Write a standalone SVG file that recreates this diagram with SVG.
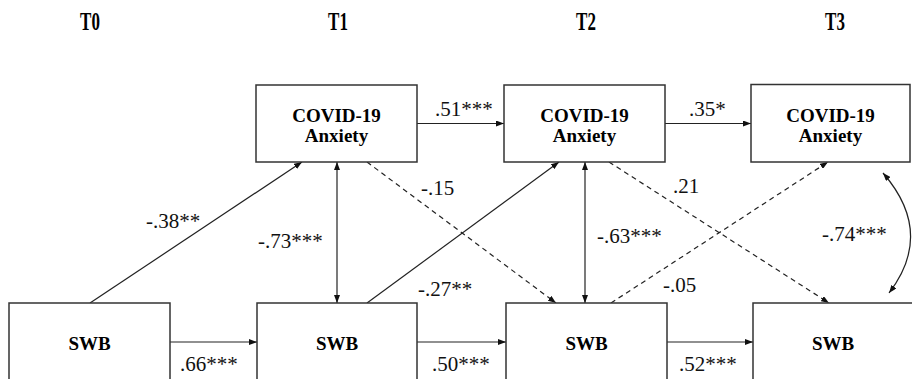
<svg xmlns="http://www.w3.org/2000/svg" width="912" height="379" viewBox="0 0 912 379">
<style>
.box{fill:#fff;stroke:#333;stroke-width:1.5}
.lbl{font-weight:bold;font-size:19px;fill:#000;text-anchor:middle}
.hd{font-weight:bold;font-size:25px;fill:#000;text-anchor:middle}
.coef{font-size:21px;fill:#111}
.ln{fill:none;stroke:#222;stroke-width:1.2}
.dash{stroke-dasharray:5 4}
</style>
<defs>
<marker id="ah" viewBox="0 0 8 6" refX="8" refY="3" markerWidth="8" markerHeight="6" markerUnits="userSpaceOnUse" orient="auto-start-reverse">
<path d="M0,0 L8,3 L0,6 z" fill="#111"/>
</marker>
</defs>
<g id="headings" font-family="Liberation Serif, Times New Roman, serif">
<text class="hd" transform="translate(90,30) scale(0.68,1)">T0</text>
<text class="hd" transform="translate(338,30) scale(0.68,1)">T1</text>
<text class="hd" transform="translate(586,30) scale(0.68,1)">T2</text>
<text class="hd" transform="translate(835,30) scale(0.68,1)">T3</text>
</g>
<g id="connectors">
<line class="ln" x1="417" y1="123.5" x2="504" y2="123.5" marker-end="url(#ah)"/>
<line class="ln" x1="665" y1="123.5" x2="751" y2="123.5" marker-end="url(#ah)"/>
<line class="ln" x1="170" y1="342" x2="257" y2="342" marker-end="url(#ah)"/>
<line class="ln" x1="417" y1="342" x2="506" y2="342" marker-end="url(#ah)"/>
<line class="ln" x1="667" y1="342" x2="753" y2="342" marker-end="url(#ah)"/>
<line class="ln" x1="337" y1="162" x2="337" y2="303" marker-start="url(#ah)" marker-end="url(#ah)"/>
<line class="ln" x1="585" y1="162" x2="585" y2="303" marker-start="url(#ah)" marker-end="url(#ah)"/>
<line class="ln" x1="90" y1="303" x2="302" y2="162" marker-end="url(#ah)"/>
<line class="ln" x1="367" y1="303" x2="559" y2="162" marker-end="url(#ah)"/>
<line class="ln dash" x1="367" y1="162" x2="556" y2="303" marker-end="url(#ah)"/>
<line class="ln dash" x1="609" y1="162" x2="829" y2="303" marker-end="url(#ah)"/>
<line class="ln dash" x1="611" y1="303" x2="828" y2="162" marker-end="url(#ah)"/>
<path class="ln" d="M883,173 Q935,233 889,293" marker-start="url(#ah)" marker-end="url(#ah)"/>
</g>
<g id="coefficients" font-family="Liberation Serif, Times New Roman, serif">
<text class="coef" x="435" y="116">.51***</text>
<text class="coef" x="689" y="116">.35*</text>
<text class="coef" x="180" y="371">.66***</text>
<text class="coef" x="432" y="371">.50***</text>
<text class="coef" x="679" y="371">.52***</text>
<text class="coef" x="146" y="228">-.38**</text>
<text class="coef" x="258" y="248">-.73***</text>
<text class="coef" x="421" y="195">-.15</text>
<text class="coef" x="418" y="296">-.27**</text>
<text class="coef" x="673" y="193">.21</text>
<text class="coef" x="597" y="243">-.63***</text>
<text class="coef" x="663" y="292">-.05</text>
<text class="coef" x="822" y="241">-.74***</text>
</g>
<g id="anx1" font-family="Liberation Serif, Times New Roman, serif">
<rect class="box" x="256" y="85" width="161" height="77"/>
<text class="lbl" x="336.5" y="122">COVID-19</text>
<text class="lbl" x="336.5" y="142">Anxiety</text>
</g>
<g id="anx2" font-family="Liberation Serif, Times New Roman, serif">
<rect class="box" x="504" y="85" width="161" height="77"/>
<text class="lbl" x="584.5" y="122">COVID-19</text>
<text class="lbl" x="584.5" y="142">Anxiety</text>
</g>
<g id="anx3" font-family="Liberation Serif, Times New Roman, serif">
<rect class="box" x="751" y="84.5" width="159" height="77.5"/>
<text class="lbl" x="830.5" y="122">COVID-19</text>
<text class="lbl" x="830.5" y="142">Anxiety</text>
</g>
<g id="swb0" font-family="Liberation Serif, Times New Roman, serif">
<rect class="box" x="9" y="303" width="161" height="100"/>
<text class="lbl" x="89.5" y="350">SWB</text>
</g>
<g id="swb1" font-family="Liberation Serif, Times New Roman, serif">
<rect class="box" x="257" y="303" width="160" height="100"/>
<text class="lbl" x="337" y="350">SWB</text>
</g>
<g id="swb2" font-family="Liberation Serif, Times New Roman, serif">
<rect class="box" x="506" y="303" width="161" height="100"/>
<text class="lbl" x="586.5" y="350">SWB</text>
</g>
<g id="swb3" font-family="Liberation Serif, Times New Roman, serif">
<rect class="box" x="753" y="303" width="162" height="100"/>
<text class="lbl" x="833" y="350">SWB</text>
</g>
</svg>
